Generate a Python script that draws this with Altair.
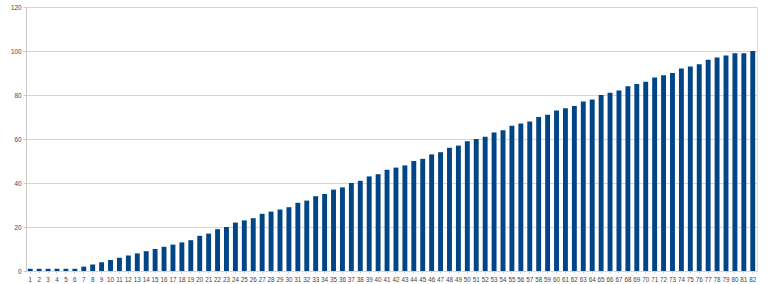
import altair as alt
import pandas as pd

categories = [str(i) for i in range(1, 83)]
values = [1, 1, 1, 1, 1, 1, 2, 3, 4, 5, 6, 7, 8, 9, 10, 11, 12, 13, 14, 16,
          17, 19, 20, 22, 23, 24, 26, 27, 28, 29, 31, 32, 34, 35, 37, 38, 40, 41, 43, 44,
          46, 47, 48, 50, 51, 53, 54, 56, 57, 59, 60, 61, 63, 64, 66, 67, 68, 70, 71, 73,
          74, 75, 77, 78, 80, 81, 82, 84, 85, 86, 88, 89, 90, 92, 93, 94, 96, 97, 98, 99,
          99, 100]
y_ticks = [0, 20, 40, 60, 80, 100, 120]

df = pd.DataFrame({"cat": categories, "val": values})

chart = alt.Chart(df).mark_bar(color="#004586").encode(
    x=alt.X("cat:N", sort=categories, title=None,
            scale=alt.Scale(paddingInner=0.45, paddingOuter=0.2),
            axis=alt.Axis(labelAngle=0, labelFontSize=6.3, labelColor="#444444",
                          labelFont="Liberation Sans", domain=False, ticks=True,
                          tickColor="#d0d0d0", tickSize=2, labelPadding=3, grid=False,
                          labelOverlap=False)),
    y=alt.Y("val:Q", title=None,
            scale=alt.Scale(domain=[0, 120], nice=False),
            axis=alt.Axis(values=y_ticks, labelFontSize=6.3, labelColor="#444444",
                          labelFont="Liberation Sans", domain=True, domainColor="#c8c8c8",
                          ticks=True, tickColor="#c8c8c8", tickSize=3, labelPadding=2,
                          grid=True, gridColor="#d6d6d6", gridWidth=1)),
).properties(
    width=731, height=264,
    autosize=alt.AutoSizeParams(type="none"),
    padding={"left": 26, "top": 7, "right": 11, "bottom": 13},
).configure_view(stroke="#d6d6d6", strokeWidth=1).configure(background="white")

chart.save("out.html", embed_options={"renderer": "svg", "actions": False})
